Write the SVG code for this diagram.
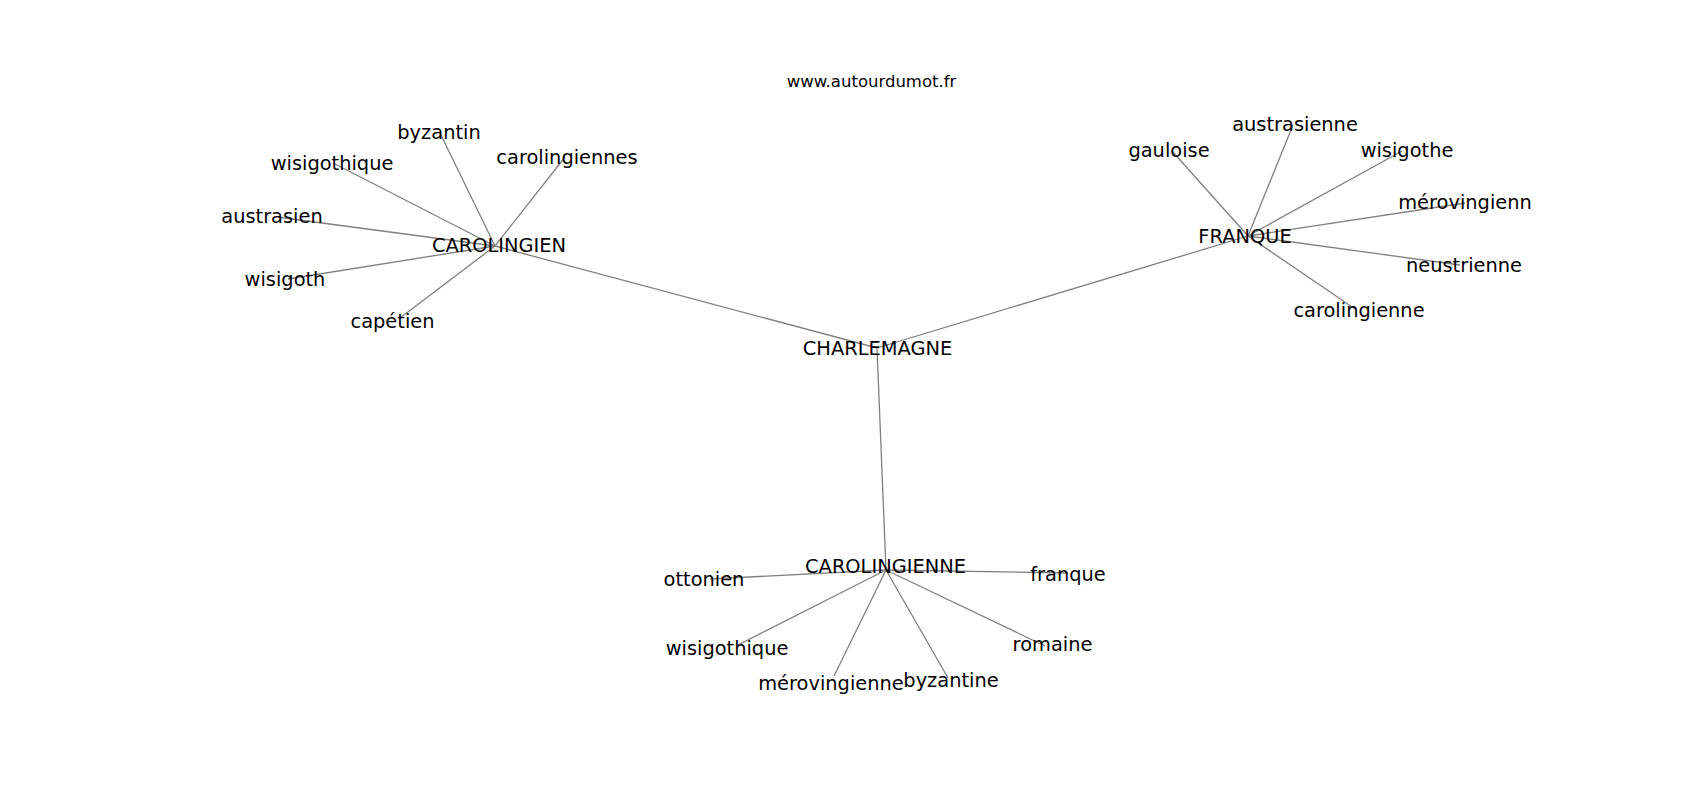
<svg xmlns="http://www.w3.org/2000/svg" width="1700" height="800" viewBox="0 0 1700 800">
<style>
.e{stroke:#808080;stroke-width:1.3;fill:none}
text{font-family:"DejaVu Sans","Liberation Sans",sans-serif;font-size:19.4px;fill:#000;text-anchor:middle}
.t{font-size:16.5px}
</style>
<rect width="1700" height="800" fill="#fff"/>
<text class="t" x="871.5" y="87">www.autourdumot.fr</text>
<g id="connectors">
<line class="e" x1="877" y1="348" x2="495" y2="246"/>
<line class="e" x1="877" y1="348" x2="1248" y2="236"/>
<line class="e" x1="877" y1="348" x2="886" y2="570"/>
<line class="e" x1="495" y1="246" x2="440" y2="133"/>
<line class="e" x1="495" y1="246" x2="333" y2="163"/>
<line class="e" x1="495" y1="246" x2="565" y2="157"/>
<line class="e" x1="495" y1="246" x2="277" y2="217"/>
<line class="e" x1="495" y1="246" x2="288" y2="279"/>
<line class="e" x1="495" y1="246" x2="400" y2="318"/>
<line class="e" x1="1248" y1="236" x2="1293" y2="125"/>
<line class="e" x1="1248" y1="236" x2="1172" y2="151"/>
<line class="e" x1="1248" y1="236" x2="1402" y2="151"/>
<line class="e" x1="1248" y1="236" x2="1465" y2="203"/>
<line class="e" x1="1248" y1="236" x2="1460" y2="265"/>
<line class="e" x1="1248" y1="236" x2="1355" y2="309"/>
<line class="e" x1="886" y1="570" x2="710" y2="579"/>
<line class="e" x1="886" y1="570" x2="1068" y2="573"/>
<line class="e" x1="886" y1="570" x2="738" y2="645"/>
<line class="e" x1="886" y1="570" x2="1045" y2="646"/>
<line class="e" x1="886" y1="570" x2="834" y2="676"/>
<line class="e" x1="886" y1="570" x2="948" y2="678"/>
</g>
<g id="n-charlemagne"><text x="877.5" y="355">CHARLEMAGNE</text></g>
<g id="n-carolingien"><text x="499" y="252">CAROLINGIEN</text></g>
<g id="n-franque-hub"><text x="1245" y="243">FRANQUE</text></g>
<g id="n-carolingienne-hub"><text x="885.5" y="573">CAROLINGIENNE</text></g>
<g id="n-byzantin"><text x="439" y="139">byzantin</text></g>
<g id="n-wisigothique1"><text x="332" y="170">wisigothique</text></g>
<g id="n-carolingiennes"><text x="567" y="164">carolingiennes</text></g>
<g id="n-austrasien"><text x="272" y="223">austrasien</text></g>
<g id="n-wisigoth"><text x="285" y="286">wisigoth</text></g>
<g id="n-capetien"><text x="392.5" y="328">capétien</text></g>
<g id="n-austrasienne"><text x="1295" y="131">austrasienne</text></g>
<g id="n-gauloise"><text x="1169" y="157">gauloise</text></g>
<g id="n-wisigothe"><text x="1407" y="157">wisigothe</text></g>
<g id="n-merovingienn"><text x="1465" y="209">mérovingienn</text></g>
<g id="n-neustrienne"><text x="1464" y="272">neustrienne</text></g>
<g id="n-carolingienne"><text x="1359" y="317">carolingienne</text></g>
<g id="n-ottonien"><text x="704" y="586">ottonien</text></g>
<g id="n-franque"><text x="1068" y="581">franque</text></g>
<g id="n-wisigothique2"><text x="727" y="655">wisigothique</text></g>
<g id="n-romaine"><text x="1052.5" y="651">romaine</text></g>
<g id="n-merovingienne"><text x="831" y="690">mérovingienne</text></g>
<g id="n-byzantine"><text x="951" y="687">byzantine</text></g>
</svg>
